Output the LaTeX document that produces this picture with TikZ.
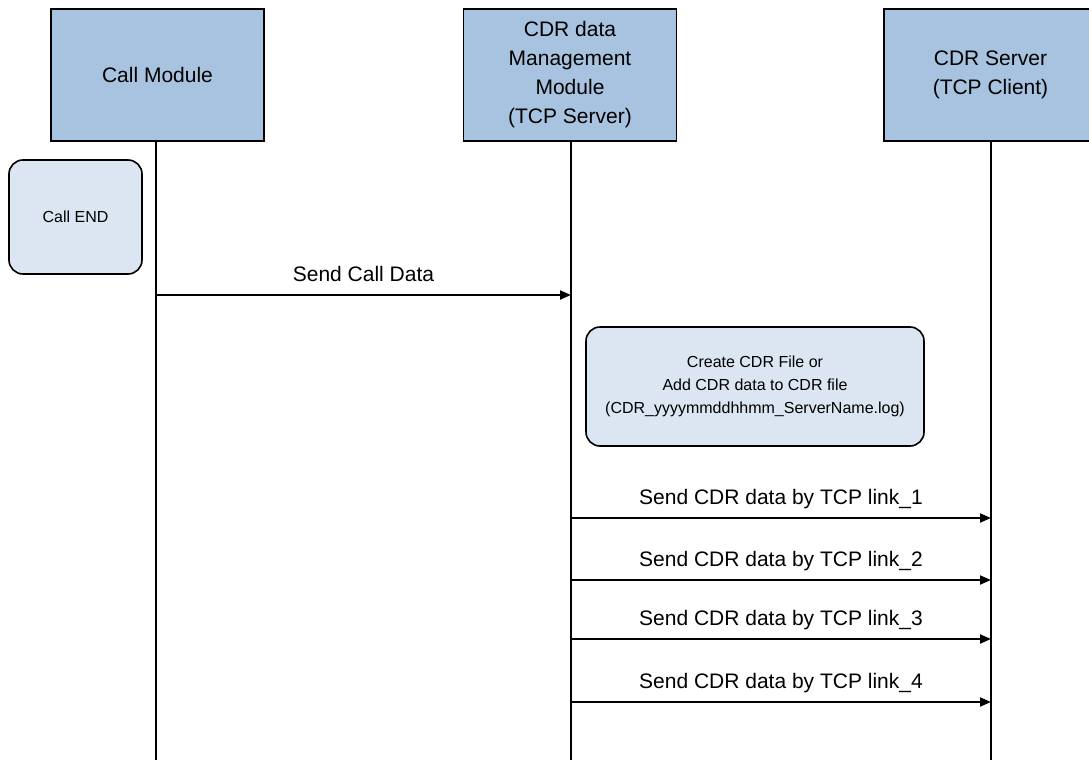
\documentclass[tikz,border=0pt]{standalone}
\usepackage{fontspec}
\setmainfont{Liberation Sans}
\usetikzlibrary{positioning}
\usetikzlibrary{arrows.meta}
\definecolor{headblue}{RGB}{167,195,224}
\definecolor{noteblue}{RGB}{220,230,242}
\tikzset{
    headbox/.style = {rectangle, line width=1.6pt, draw=black, align=center, fill=headblue, minimum width=213pt, minimum height=132pt, font=\fontsize{21}{29}\selectfont, text=black},
    notebox/.style = {rectangle, rounded corners=14pt, line width=1.6pt, draw=black, align=center, fill=noteblue, font=\fontsize{16}{23}\selectfont, text=black},
    lifen/.style = {-, line width=1.3pt, black},
    edgen/.style = {-{Triangle[length=11pt,width=9pt]}, line width=2pt, black},
    msglabel/.style = {midway, yshift=19pt, font=\fontsize{21}{25}\selectfont, text height=15pt, text depth=4pt, inner sep=0pt}
}

\begin{document}
\begin{tikzpicture}[x=1pt,y=-1pt]
\useasboundingbox (0,0) rectangle (1089,760);
\node[headbox] at ( 157.5, 75) (cm) {Call Module};
\node[headbox] at ( 570.0, 75) (cdr) {CDR data\\Management\\Module\\(TCP Server)};
\node[headbox] at ( 990.5, 75) (srv) {CDR Server\\(TCP Client)};

% lifelines
\coordinate (cmend)  at (156, 760);
\coordinate (cdrend) at (571, 760);
\coordinate (srvend) at (991, 760);
\draw[lifen] (cm.south -| cmend) -- (cmend);
\draw[lifen] (cdr.south -| cdrend) -- (cdrend);
\draw[lifen] (srv.south -| srvend) -- (srvend);

\node[notebox, minimum width=133pt, minimum height=114pt] at ( 75.5, 217) (callend) {Call END};
\node[notebox, minimum width=338pt, minimum height=119pt] at (755.0, 386.5) (cdrfile) {Create CDR File or\\Add CDR data to CDR file\\(CDR\_yyyymmddhhmm\_ServerName.log)};

% messages
\coordinate (m0s) at (156, 295);
\coordinate (m0e) at (571, 295);
\coordinate (m1s) at (571, 518);
\coordinate (m1e) at (991, 518);
\coordinate (m2s) at (571, 580);
\coordinate (m2e) at (991, 580);
\coordinate (m3s) at (571, 639);
\coordinate (m3e) at (991, 639);
\coordinate (m4s) at (571, 702);
\coordinate (m4e) at (991, 702);

\draw[edgen] (m0s) -- node[msglabel] {Send Call Data} (m0e);
\draw[edgen] (m1s) -- node[msglabel] {Send CDR data by TCP link\_1} (m1e);
\draw[edgen] (m2s) -- node[msglabel] {Send CDR data by TCP link\_2} (m2e);
\draw[edgen] (m3s) -- node[msglabel] {Send CDR data by TCP link\_3} (m3e);
\draw[edgen] (m4s) -- node[msglabel] {Send CDR data by TCP link\_4} (m4e);

\end{tikzpicture}
\end{document}
